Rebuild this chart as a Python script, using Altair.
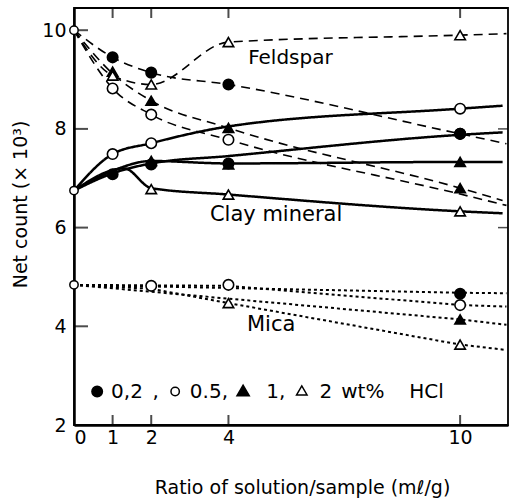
import altair as alt
import pandas as pd

FONT = "DejaVu Sans"

# ---- line knots (x = ratio, y = net count x10^3)
feld_x = {"0.2": [0, 1, 2, 4, 10, 11.2],
          "0.5": [0, 1, 2, 4, 10, 11.2],
          "1":   [0, 1, 2, 4, 10, 11.1],
          "2":   [0, 1, 2, 4, 10, 11.2]}
feld_y = {"0.2": [10.0, 9.45, 9.14, 8.9, 7.9, 7.7],
          "0.5": [10.0, 8.82, 8.29, 7.78, 6.68, 6.45],
          "1":   [10.0, 9.12, 8.57, 8.02, 6.8, 6.55],
          "2":   [10.0, 9.08, 8.9, 9.76, 9.9, 9.93]}

clay_x = {"0.2": [0, 1, 2, 4, 10, 11.1],
          "0.5": [0, 1, 2, 4, 10, 11.1],
          "1":   [0, 1, 2, 4, 10, 11.1],
          "2":   [0, 1.3, 2, 4, 10, 11.1]}
clay_y = {"0.2": [6.75, 7.1, 7.3, 7.45, 7.88, 7.93],
          "0.5": [6.75, 7.49, 7.71, 8.05, 8.41, 8.47],
          "1":   [6.75, 7.15, 7.35, 7.3, 7.33, 7.33],
          "2":   [6.75, 7.2, 6.8, 6.67, 6.33, 6.29]}

mica_x = {"0.2": [0, 10, 11.2],
          "0.5": [0, 2, 4, 10, 11.2],
          "1":   [0, 10, 11.2],
          "2":   [0, 2, 4, 10, 11.2]}
mica_y = {"0.2": [4.84, 4.68, 4.67],
          "0.5": [4.84, 4.83, 4.82, 4.43, 4.4],
          "1":   [4.84, 4.14, 4.03],
          "2":   [4.84, 4.76, 4.47, 3.63, 3.52]}

# ---- measured points (markers)
pt_hcl = ["1", "0.2", "2", "0.2", "1", "2", "0.5", "0.2", "1", "2", "0.5", "0.2", "1", "2", "0.5",
          "0.2", "1", "2", "0.5", "0.2", "1", "2", "0.5", "0.2", "1", "2", "0.2", "0.5",
          "0.5", "0.5", "2", "0.2", "0.5", "1", "2"]
pt_x = [1, 1, 1, 2, 2, 2, 1, 4, 4, 4, 2, 10, 10, 10, 4,
        1, 2, 2, 1, 2, 4, 4, 2, 4, 10, 10, 10, 10,
        2, 4, 4, 10, 10, 10, 10]
pt_y = [9.16, 9.45, 9.08, 9.14, 8.57, 8.9, 8.82, 8.9, 8.02, 9.76, 8.29, 7.9, 6.8, 9.9, 7.78,
        7.08, 7.35, 6.78, 7.49, 7.28, 7.28, 6.67, 7.71, 7.3, 7.33, 6.33, 7.9, 8.41,
        4.82, 4.84, 4.47, 4.66, 4.43, 4.14, 3.63]
origin_y = [10.0, 6.75, 4.84]

# ---- axes / ticks
x_ticks = [0, 1, 2, 4, 10]
x_inner_ticks = [1, 2, 4, 10]
y_ticks = [2, 4, 6, 8, 10]
y_inner_ticks = [4, 6, 8, 10]
y_right_ticks = [6, 8]
X_MAX = 11.24
Y_MIN, Y_MAX = 2, 10.45

# ---- annotations
labels = ["Feldspar", "Clay mineral", "Mica",
          "0,2", ",", "0.5,", "1,", "2", "wt%", "HCl"]
label_x = [4.51, 3.52, 4.48,
           0.96, 2.03, 3.0, 4.98, 6.36, 6.92, 8.68]
label_y = [9.43, 6.25, 4.02,
           2.66, 2.66, 2.66, 2.66, 2.66, 2.66, 2.66]
label_size = [20, 21, 21, 20, 20, 20, 20, 20, 20, 20]

key_hcl = ["0.2", "0.5", "1", "2"]
key_x = [0.60, 2.62, 4.38, 5.90]
key_y = [2.68, 2.68, 2.70, 2.70]
key_size = [110, 70, 150, 110]


def lines_frame(xs, ys):
    rows = []
    for k in xs:
        for i, (a, b) in enumerate(zip(xs[k], ys[k])):
            rows.append({"hcl": k, "x": a, "y": b, "o": i})
    return pd.DataFrame(rows)


xscale = alt.Scale(domain=[0, X_MAX], nice=False, zero=False)
yscale = alt.Scale(domain=[Y_MIN, Y_MAX], nice=False, zero=False)

xenc = alt.X("x:Q", scale=xscale,
             axis=alt.Axis(values=x_ticks, title="Ratio  of  solution/sample  (m\u2113/g)",
                           ticks=False, labelPadding=3, grid=False,
                           titleX=228, titleY=62, titleBaseline="middle"))
yenc = alt.Y("y:Q", scale=yscale,
             axis=alt.Axis(values=y_ticks, title="Net count (\u00d7 10\u00b3)",
                           ticks=False, labelPadding=8, grid=False,
                           titleX=-54, titleY=196, titleBaseline="middle"))

shape_scale = alt.Scale(domain=["0.2", "0.5", "1", "2"],
                        range=["circle", "circle", "triangle-up", "triangle-up"])
fill_scale = alt.Scale(domain=["0.2", "0.5", "1", "2"],
                       range=["black", "white", "black", "white"])


def line_layer(df, dash, width, interp):
    return alt.Chart(df).mark_line(interpolate=interp, color="black",
                                   strokeDash=dash, strokeWidth=width).encode(
        x=xenc, y=yenc, detail="hcl:N", order="o:Q")


feld = line_layer(lines_frame(feld_x, feld_y), [9, 6], 1.6, "monotone")
clay = line_layer(lines_frame(clay_x, clay_y), [1, 0], 2.5, "monotone")
mica = line_layer(lines_frame(mica_x, mica_y), [3, 3], 2.0, "linear")

pts = pd.DataFrame({"hcl": pt_hcl, "x": pt_x, "y": pt_y})
markers = alt.Chart(pts).mark_point(filled=True, stroke="black", strokeWidth=1.6,
                                    opacity=1, size=110).encode(
    x="x:Q", y="y:Q",
    shape=alt.Shape("hcl:N", scale=shape_scale, legend=None),
    fill=alt.Fill("hcl:N", scale=fill_scale, legend=None),
)

orig = alt.Chart(pd.DataFrame({"x": [0] * 3, "y": origin_y})).mark_point(
    filled=True, fill="white", stroke="black", strokeWidth=1.5, opacity=1, size=70,
    shape="circle").encode(x="x:Q", y="y:Q")

keys = alt.Chart(pd.DataFrame({"hcl": key_hcl, "x": key_x, "y": key_y, "s": key_size})).mark_point(
    filled=True, stroke="black", strokeWidth=1.5, opacity=1).encode(
    x="x:Q", y="y:Q",
    shape=alt.Shape("hcl:N", scale=shape_scale, legend=None),
    fill=alt.Fill("hcl:N", scale=fill_scale, legend=None),
    size=alt.Size("s:Q", scale=None, legend=None),
)

lab = pd.DataFrame({"t": labels, "x": label_x, "y": label_y, "s": label_size})
texts = alt.Chart(lab).mark_text(align="left", baseline="middle", font=FONT,
                                 color="black").encode(
    x="x:Q", y="y:Q", text="t:N",
    size=alt.Size("s:Q", scale=None, legend=None))

left_t = alt.Chart(pd.DataFrame({"y": y_inner_ticks, "x": [0] * len(y_inner_ticks)})).mark_tick(
    orient="horizontal", size=14, thickness=2, xOffset=7, color="black").encode(x="x:Q", y="y:Q")
right_t = alt.Chart(pd.DataFrame({"y": y_right_ticks, "x": [X_MAX] * len(y_right_ticks)})).mark_tick(
    orient="horizontal", size=10, thickness=1.5, xOffset=-5, color="black").encode(x="x:Q", y="y:Q")
bot_t = alt.Chart(pd.DataFrame({"x": x_inner_ticks, "y": [Y_MIN] * len(x_inner_ticks)})).mark_tick(
    orient="vertical", size=10, thickness=2, yOffset=-5, color="black").encode(x="x:Q", y="y:Q")
top_t = alt.Chart(pd.DataFrame({"x": x_inner_ticks, "y": [Y_MAX] * len(x_inner_ticks)})).mark_tick(
    orient="vertical", size=10, thickness=2, yOffset=5, color="black").encode(x="x:Q", y="y:Q")

chart = alt.layer(feld, clay, mica, left_t, right_t, bot_t, top_t, markers, orig, keys, texts).properties(
    width=434, height=417,
    background="white",
    autosize=alt.AutoSizeParams(type="none"),
    padding={"left": 74, "top": 8, "right": 3, "bottom": 75},
).configure_view(stroke="black", strokeWidth=1.8).configure_axis(
    domainColor="black", domainWidth=2.5, labelFont=FONT, labelFontSize=19,
    labelColor="black", titleFont=FONT, titleFontSize=19, titleColor="black",
    titleFontWeight="normal"
)

chart.save("out.html", embed_options={"renderer": "svg", "actions": False})
